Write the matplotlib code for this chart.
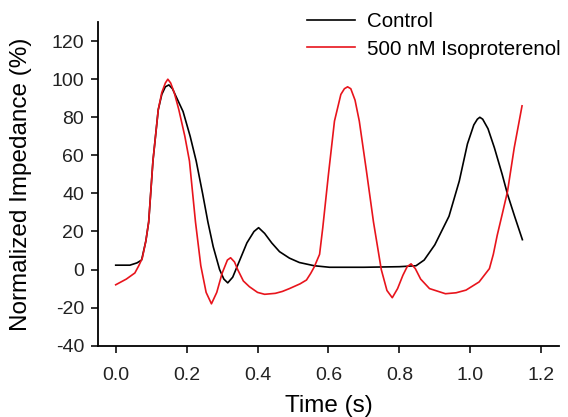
import numpy as np
import matplotlib
matplotlib.use("Agg")
import matplotlib.pyplot as plt

plt.rcParams['font.family'] = ['Liberation Sans', 'DejaVu Sans']
plt.rcParams['axes.unicode_minus'] = False

# control trace (time in s, normalized impedance in %)
control_t = [0.00, 0.04, 0.06, 0.073, 0.085, 0.093, 0.105, 0.12, 0.13, 0.14,
             0.15, 0.16, 0.175, 0.19, 0.21, 0.227, 0.245, 0.26, 0.275, 0.293,
             0.305, 0.316, 0.33, 0.35, 0.37, 0.39, 0.403, 0.42, 0.44, 0.462,
             0.49, 0.518, 0.56, 0.603, 0.70, 0.80, 0.847, 0.87, 0.90, 0.94,
             0.969, 0.992, 1.01, 1.02, 1.027, 1.035, 1.05, 1.068, 1.09, 1.105,
             1.125, 1.147]
control_v = [2.3, 2.3, 3.5, 5, 15, 25, 57, 84, 92, 96,
             97, 95, 89, 83, 70, 57, 40, 25, 12, 0,
             -5, -7, -4, 5, 14, 20, 22, 19, 14, 9.4,
             6, 3.7, 2, 1.2, 1.2, 1.5, 2, 5, 13, 28,
             46.5, 66, 76, 79, 80, 79, 74, 64, 50, 39.6,
             28, 15.7]

# 500 nM isoproterenol trace
iso_t = [0.00, 0.03, 0.054, 0.065, 0.075, 0.085, 0.093, 0.105, 0.12, 0.13,
         0.14, 0.147, 0.155, 0.165, 0.178, 0.195, 0.208, 0.225, 0.24, 0.255,
         0.27, 0.285, 0.30, 0.315, 0.324, 0.335, 0.344, 0.36, 0.377, 0.40,
         0.42, 0.45, 0.47, 0.49, 0.52, 0.538, 0.55, 0.56, 0.575, 0.584,
         0.60, 0.617, 0.635, 0.645, 0.654, 0.663, 0.675, 0.687, 0.707, 0.727,
         0.749, 0.765, 0.78, 0.795, 0.81, 0.822, 0.833, 0.845, 0.86, 0.885,
         0.93, 0.96, 0.988, 1.025, 1.054, 1.065, 1.076, 1.09, 1.105, 1.124,
         1.146]
iso_v = [-8, -5, -1.8, 2, 6, 15, 25, 57, 84, 93,
         98, 100, 98, 93, 84, 70, 57, 25, 2, -12,
         -18, -12, -2, 5, 6.2, 4, 0, -6, -9, -12,
         -13, -12.5, -11.5, -10, -7.5, -5.5, -2, 1.4, 8, 22,
         50, 78, 92, 95, 96, 95, 89, 78, 52, 25,
         0, -11, -14.8, -10, -3, 1.5, 3, 0.5, -5, -10,
         -12.7, -12.2, -10.8, -6.5, 0.5, 8, 18, 29, 41, 64,
         86]

x_ticks = [0.0, 0.2, 0.4, 0.6, 0.8, 1.0, 1.2]
y_ticks = [-40, -20, 0, 20, 40, 60, 80, 100, 120]

fig = plt.figure(figsize=(5.68, 4.17), dpi=100)
ax = fig.add_axes([0.1725, 0.171, 0.8115, 0.776])

ax.plot(control_t, control_v, color="black", lw=1.2, label="Control")
ax.plot(iso_t, iso_v, color="#e8141c", lw=1.2, label="500 nM Isoproterenol")

ax.set_xlim(-0.05, 1.25)
ax.set_ylim(-40, 130)
ax.set_xticks(x_ticks)
ax.set_xticklabels([f"{t:.1f}" for t in x_ticks])
ax.set_yticks(y_ticks)

for s in ["top", "right"]:
    ax.spines[s].set_visible(False)
for s in ["left", "bottom"]:
    ax.spines[s].set_linewidth(1.3)

ax.tick_params(axis="both", direction="out", length=5, width=1.3,
               labelsize=14, colors="#222222")
ax.tick_params(axis="x", pad=10)
ax.tick_params(axis="y", pad=5)

ax.set_xlabel("Time (s)", fontsize=17.5, labelpad=8)
ax.set_ylabel("Normalized Impedance (%)", fontsize=17.5, labelpad=14)

fig.legend(loc="upper left", bbox_to_anchor=(0.526, 0.99), frameon=False,
           fontsize=14.8, handlelength=2.35, handletextpad=0.55,
           labelspacing=0.4, borderaxespad=0)

fig.savefig("out.png", dpi=100)
